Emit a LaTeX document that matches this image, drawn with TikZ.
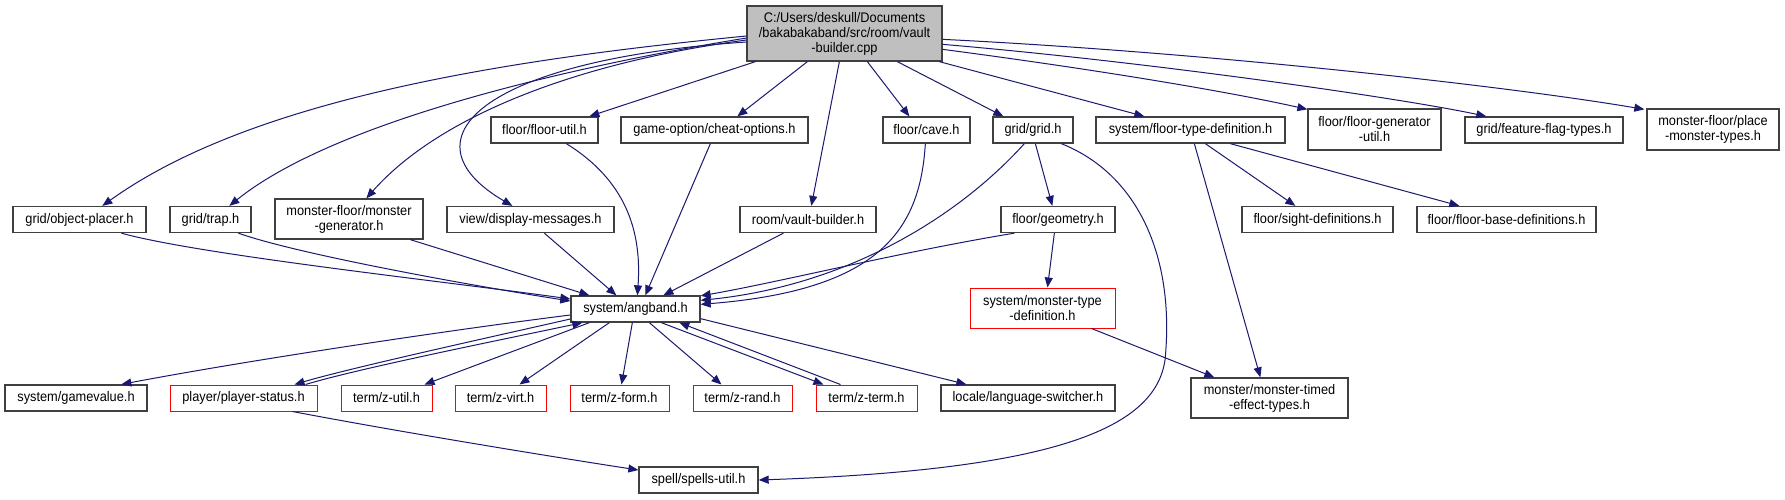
\documentclass[tikz,border=0pt]{standalone}
\usepackage{fontspec}
\setmainfont{Liberation Sans}[FakeStretch=0.92]
\usetikzlibrary{arrows.meta,calc}
\definecolor{edgecol}{HTML}{191970}
\begin{document}
\begin{tikzpicture}[x=1pt,y=-1pt,
  box/.style={draw=black!75, line width=1.3pt, fill=white, inner sep=0pt, align=center, font=\fontsize{13.9}{15}\selectfont},
  redbox/.style={box, draw=red, line width=1pt},
  rootbox/.style={box, fill=black!25},
  wh/.style 2 args={minimum width=#1pt, minimum height=#2pt},
  edge/.style={draw=edgecol, line width=1pt, -{Triangle[length=10pt,width=8pt]}}]
\useasboundingbox[fill=white] (0,0) rectangle (1785,499);
% nodes
\node[rootbox, wh={195}{55}] (root) at (844.5,33.5) {C:/Users/deskull/Documents\\/bakabakaband/src/room/vault\\-builder.cpp};
\node[box, wh={107}{26}] (fu) at (544.5,130) {floor/floor-util.h};
\node[box, wh={187}{26}] (co) at (714.5,130) {game-option/cheat-options.h};
\node[box, wh={87}{26}] (cave) at (926.5,130) {floor/cave.h};
\node[box, wh={80}{26}] (grid) at (1033,130) {grid/grid.h};
\node[box, wh={189}{26}] (ftd) at (1190.5,130) {system/floor-type-definition.h};
\node[box, wh={133}{41}] (fgu) at (1374.5,129.5) {floor/floor-generator\\-util.h};
\node[box, wh={158}{26}] (ff) at (1544,130) {grid/feature-flag-types.h};
\node[box, wh={132}{41}] (pmt) at (1713,129.5) {monster-floor/place\\-monster-types.h};
\node[box, wh={133}{26}] (op) at (79.5,219.5) {grid/object-placer.h};
\node[box, wh={81}{26}] (trap) at (210.5,219.5) {grid/trap.h};
\node[box, wh={148}{40}] (mg) at (349,219) {monster-floor/monster\\-generator.h};
\node[box, wh={167}{26}] (dm) at (530.5,219.5) {view/display-messages.h};
\node[box, wh={136}{26}] (vb) at (808,219.5) {room/vault-builder.h};
\node[box, wh={114}{26}] (geo) at (1058,219.5) {floor/geometry.h};
\node[box, wh={151}{26}] (sd) at (1317.5,219.5) {floor/sight-definitions.h};
\node[box, wh={179}{26}] (fbd) at (1506.5,219.5) {floor/floor-base-definitions.h};
\node[box, wh={129}{26}] (ang) at (635.5,309) {system/angband.h};
\node[redbox, wh={145}{40}] (mtd) at (1042.5,308) {system/monster-type\\-definition.h};
\node[box, wh={142}{26}] (gv) at (76,398) {system/gamevalue.h};
\node[redbox, wh={147}{26}] (ps) at (243.5,398) {player/player-status.h};
\node[redbox, wh={91}{26}] (zu) at (386.5,398) {term/z-util.h};
\node[redbox, wh={91}{26}] (zv) at (500.5,398) {term/z-virt.h};
\node[redbox, wh={99}{26}] (zf) at (619.5,398) {term/z-form.h};
\node[redbox, wh={99}{26}] (zr) at (742.5,398) {term/z-rand.h};
\node[redbox, wh={101}{26}] (zt) at (866.5,398) {term/z-term.h};
\node[box, wh={174}{26}] (ls) at (1028,398) {locale/language-switcher.h};
\node[box, wh={157}{40}] (mte) at (1269.5,398) {monster/monster-timed\\-effect-types.h};
\node[box, wh={119}{26}] (su) at (698.5,480) {spell/spells-util.h};
% root edges
\draw[edge] ($(root.west)+(0,2.5)$) .. controls (500,60) and (250,100) .. ($(op.north west)+(90,0)$);
\draw[edge] ($(root.west)+(0,4.5)$) .. controls (550,70) and (330,125) .. ($(trap.north west)+(60,0)$);
\draw[edge] ($(root.west)+(0,6.5)$) .. controls (580,62) and (440,115) .. ($(mg.north west)+(92,0)$);
\draw[edge] ($(root.west)+(0,8.5)$) .. controls (480,60) and (400,140) .. ($(dm.north west)+(66,0)$);
\draw[edge] ($(root.south west)+(9,0)$) -- ($(fu.north west)+(99,0)$);
\draw[edge] ($(root.south west)+(61,0)$) -- ($(co.north west)+(117,0)$);
\draw[edge] ($(root.south west)+(93,0)$) -- ($(vb.north west)+(72,0)$);
\draw[edge] ($(root.south west)+(121,0)$) -- ($(cave.north west)+(27,0)$);
\draw[edge] ($(root.south west)+(151,0)$) -- ($(grid.north west)+(11,0)$);
\draw[edge] ($(root.south west)+(193,0)$) -- ($(ftd.north west)+(49,0)$);
\draw[edge] ($(root.north east)+(0,44)$) .. controls (1100,70) and (1230,92) .. ($(fgu.north west)+(0,1)$);
\draw[edge] ($(root.north east)+(0,39)$) .. controls (1150,62) and (1400,98) .. ($(ff.north west)+(22,0)$);
\draw[edge] ($(root.north east)+(0,34)$) .. controls (1200,52) and (1500,85) .. ($(pmt.north west)+(-2,1)$);
% into angband
\draw[edge] ($(op.south west)+(109,0)$) .. controls (200,255) and (450,282) .. ($(ang.west)+(0,-10)$);
\draw[edge] ($(trap.south west)+(69,0)$) .. controls (300,255) and (480,287) .. ($(ang.west)+(0,-8)$);
\draw[edge] ($(mg.south west)+(136,0)$) -- ($(ang.north west)+(19,0)$);
\draw[edge] ($(dm.south west)+(98,0)$) -- ($(ang.north west)+(46,0)$);
\draw[edge] ($(fu.south west)+(76,0)$) .. controls (625,180) and (642,230) .. ($(ang.north west)+(67,0)$);
\draw[edge] ($(co.south west)+(90,0)$) -- ($(ang.north west)+(75,0)$);
\draw[edge] ($(vb.south west)+(44,0)$) -- ($(ang.north west)+(93,0)$);
\draw[edge] ($(geo.south west)+(14,0)$) .. controls (900,252) and (780,282) .. ($(ang.north east)+(0,0.5)$);
\draw[edge] ($(grid.south west)+(32,0)$) .. controls (960,215) and (850,285) .. ($(ang.north east)+(0,5)$);
\draw[edge] ($(cave.south west)+(43,0)$) .. controls (920,230) and (880,290) .. ($(ang.north east)+(0,9)$);
% out of angband
\draw[edge] ($(ang.west)+(0,6)$) .. controls (450,330) and (250,360) .. ($(gv.north west)+(117,0)$);
\draw[edge] ($(ang.west)+(0,10)$) .. controls (500,335) and (350,368) .. ($(ps.north west)+(125,0)$);
\draw[edge] ($(ps.north west)+(136,0)$) .. controls (360,368) and (510,338) .. ($(ang.south west)+(12,0)$);
\draw[edge] ($(ang.south west)+(19,0)$) -- ($(zu.north west)+(84,0)$);
\draw[edge] ($(ang.south west)+(39,0)$) -- ($(zv.north west)+(65,0)$);
\draw[edge] ($(ang.south west)+(62,0)$) -- ($(zf.north west)+(52,0)$);
\draw[edge] ($(ang.south west)+(79,0)$) -- ($(zr.north west)+(29,0)$);
\draw[edge] ($(ang.south west)+(91,0)$) -- ($(zt.north west)+(8,0)$);
\draw[edge] ($(zt.north west)+(25,0)$) -- ($(ang.south west)+(109,0)$);
\draw[edge] ($(ang.south east)+(0,-4)$) -- ($(ls.north west)+(26,0)$);
\draw[edge] ($(ps.south west)+(123,0)$) .. controls (400,432) and (560,458) .. ($(su.west)+(0,-10)$);
% grid and others
\draw[edge] ($(grid.south west)+(69,0)$) .. controls (1140,175) and (1175,260) .. (1165,360) .. controls (1155,430) and (1050,470) .. (su.east);
\draw[edge] ($(grid.south west)+(43,0)$) -- ($(geo.north west)+(52,0)$);
\draw[edge] ($(geo.south west)+(54,0)$) -- ($(mtd.north west)+(78,0)$);
\draw[edge] ($(mtd.south west)+(122,0)$) -- ($(mte.north west)+(24,0)$);
\draw[edge] ($(ftd.south west)+(99,0)$) -- ($(mte.north west)+(70,0)$);
\draw[edge] ($(ftd.south west)+(110,0)$) -- ($(sd.north west)+(54,0)$);
\draw[edge] ($(ftd.south west)+(135,0)$) -- ($(fbd.north west)+(43,0)$);
\end{tikzpicture}
\end{document}
